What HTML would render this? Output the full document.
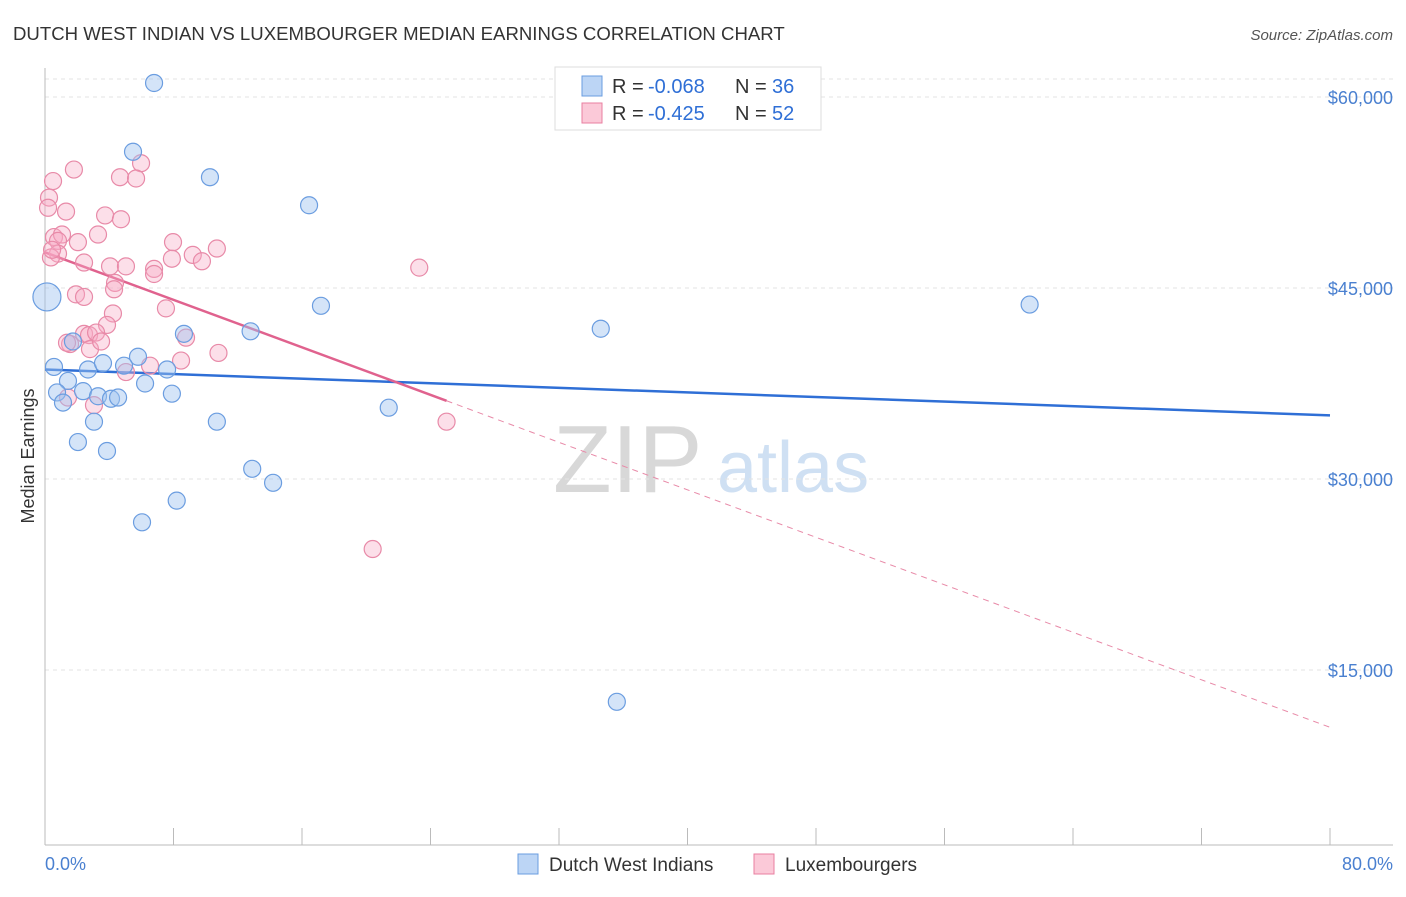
<!DOCTYPE html>
<html><head><meta charset="utf-8"><style>
body{margin:0;background:#fff;font-family:"Liberation Sans",sans-serif}
svg text{font-family:"Liberation Sans",sans-serif}
</style></head><body>
<svg id="chart" width="1406" height="892" viewBox="0 0 1406 892" xmlns="http://www.w3.org/2000/svg">
<text x="13" y="40" font-size="18.6" fill="#333">DUTCH WEST INDIAN VS LUXEMBOURGER MEDIAN EARNINGS CORRELATION CHART</text>
<text x="1393" y="40" font-size="15" fill="#555" text-anchor="end" font-style="italic">Source: ZipAtlas.com</text>
<g>
<text x="553" y="492" font-size="96" fill="#d8d8d8" font-family="Liberation Serif, serif">ZIP</text>
<text x="717" y="492" font-size="72" fill="#cfe0f3">atlas</text>
</g>
<g id="grid"></g>
<g id="axes"></g>
<g id="lines"></g>
<g id="pts"></g>
<text transform="translate(34,456) rotate(-90)" font-size="18" fill="#333" text-anchor="middle">Median Earnings</text>
<text x="45" y="870" font-size="18" fill="#4a80d0">0.0%</text>
<text x="1393" y="870" font-size="18" fill="#4a80d0" text-anchor="end">80.0%</text>
<g>
<rect x="555" y="67" width="266" height="63" fill="#fff" stroke="#ddd"/>
<rect x="582" y="76" width="20" height="20" fill="#bcd5f5" stroke="#6a9de0"/>
<rect x="582" y="103" width="20" height="20" fill="#fbc9d8" stroke="#e87fa0"/>
<text x="612" y="93" font-size="20" fill="#333">R =</text>
<text x="648" y="93" font-size="20" fill="#2f6fd6">-0.068</text>
<text x="735" y="93" font-size="20" fill="#333">N =</text>
<text x="772" y="93" font-size="20" fill="#2f6fd6">36</text>
<text x="612" y="120" font-size="20" fill="#333">R =</text>
<text x="648" y="120" font-size="20" fill="#2f6fd6">-0.425</text>
<text x="735" y="120" font-size="20" fill="#333">N =</text>
<text x="772" y="120" font-size="20" fill="#2f6fd6">52</text>
</g>
<g>
<rect x="518" y="854" width="20" height="20" fill="#bcd5f5" stroke="#6a9de0"/>
<text x="549" y="871" font-size="19" fill="#333">Dutch West Indians</text>
<rect x="754" y="854" width="20" height="20" fill="#fbc9d8" stroke="#e87fa0"/>
<text x="785" y="871" font-size="19" fill="#333">Luxembourgers</text>
</g>
</svg>
<script>
const yTicks=[15000,30000,45000,60000];
const yTickLabels=["$15,000","$30,000","$45,000","$60,000"];
const xTicks=[0,8,16,24,32,40,48,56,64,72,80];
const blueX=[6.79,5.48,10.27,16.44,17.18,61.3,34.6,12.8,8.65,1.74,0.56,2.68,3.61,5.79,4.92,7.6,1.43,2.37,0.75,1.12,3.3,4.11,4.55,6.23,7.9,21.4,3.05,10.7,2.05,3.86,12.9,14.2,8.2,6.04,35.6,0.12];
const blueY=[61.1,55.7,53.7,51.5,43.6,43.7,41.8,41.6,41.4,40.8,38.8,38.6,39.1,39.6,38.9,38.6,37.7,36.9,36.8,36.0,36.5,36.3,36.4,37.5,36.7,35.6,34.5,34.5,32.9,32.2,30.8,29.7,28.3,26.6,12.5,44.3];
const pinkX=[1.8,5.98,0.5,4.67,5.67,0.25,0.19,1.31,3.74,4.73,0.56,1.06,0.81,3.3,2.05,7.97,10.7,0.81,0.37,2.43,4.05,5.04,7.9,9.2,9.77,6.79,6.79,4.36,4.3,1.93,2.43,7.53,4.23,3.86,23.3,2.43,2.74,3.18,1.56,2.8,3.49,8.78,10.8,8.47,6.54,5.04,1.43,3.05,25.0,20.4,0.44,1.37];
const pinkY=[54.3,54.8,53.4,53.7,53.6,52.1,51.3,51.0,50.7,50.4,49.0,49.2,48.7,49.2,48.6,48.6,48.1,47.7,47.4,47.0,46.7,46.7,47.3,47.6,47.1,46.5,46.1,45.4,44.9,44.5,44.3,43.4,43.0,42.1,46.6,41.4,41.3,41.5,40.6,40.2,40.8,41.1,39.9,39.3,38.9,38.4,36.4,35.8,34.5,24.5,48.0,40.7];
const blueTrend=[38.6,35.0];
const pinkTrend=[47.8,10.5];
const pinkSolidEnd=25.0;

const NS="http://www.w3.org/2000/svg";
const X0=45,X1=1330,Y0=861,PX=191/15000;
const sx=v=>X0+(v/80)*(X1-X0);
const sy=v=>Y0-v*PX;
const syk=v=>sy(v*1000);
function mk(tag,at,parent){const e=document.createElementNS(NS,tag);for(const k in at)e.setAttribute(k,at[k]);parent.appendChild(e);return e;}
const grid=document.getElementById('grid'),axes=document.getElementById('axes'),lines=document.getElementById('lines'),pts=document.getElementById('pts');
let g=mk('line',{x1:45,x2:1393,y1:79,y2:79,stroke:'#e3e3e3','stroke-dasharray':'4,4'},grid);


yTicks.forEach((t,i)=>{
 const l=mk('line',{x1:45,x2:1393,y1:sy(t),y2:sy(t),stroke:'#e3e3e3','stroke-dasharray':'4,4'},grid);
 
 
 const tx=mk('text',{x:1393,y:sy(t)+7,'font-size':18,fill:'#4a80d0','text-anchor':'end'},grid);
 tx.textContent=yTickLabels[i];
 
 
});
mk('line',{x1:45,x2:45,y1:68,y2:845,stroke:'#bbb'},axes);
mk('line',{x1:45,x2:1393,y1:845,y2:845,stroke:'#bbb'},axes);
xTicks.forEach(t=>{
 const l=mk('line',{x1:sx(t),x2:sx(t),y1:828,y2:845,stroke:'#bbb'},axes);
 
 
});
function dot(x,y,r,fill,stroke,name){
 const c=mk('circle',{cx:sx(x),cy:syk(y),r:r,fill:fill,stroke:stroke,'stroke-width':1.2},pts);
 
 
}
pinkX.forEach((x,i)=>dot(x,pinkY[i],8.5,'rgba(247,172,197,0.38)','#e88aa8','point-luxembourger'));
blueX.forEach((x,i)=>dot(x,blueY[i],i===blueX.length-1?14:8.5,'rgba(160,196,240,0.45)','#6b9de0','point-dutch-west-indian'));
const bl=mk('line',{x1:sx(0),y1:syk(blueTrend[0]),x2:sx(80),y2:syk(blueTrend[1]),stroke:'#2f6fd6','stroke-width':2.5},lines);


const pAt=x=>pinkTrend[0]+(pinkTrend[1]-pinkTrend[0])*x/80;
const ps=mk('line',{x1:sx(0),y1:syk(pinkTrend[0]),x2:sx(pinkSolidEnd),y2:syk(pAt(pinkSolidEnd)),stroke:'#e0628e','stroke-width':2.5},lines);


const pd=mk('line',{x1:sx(pinkSolidEnd),y1:syk(pAt(pinkSolidEnd)),x2:sx(80),y2:syk(pinkTrend[1]),stroke:'#e88aa8','stroke-width':1,'stroke-dasharray':'6,5'},lines);


</script>
</body></html>
